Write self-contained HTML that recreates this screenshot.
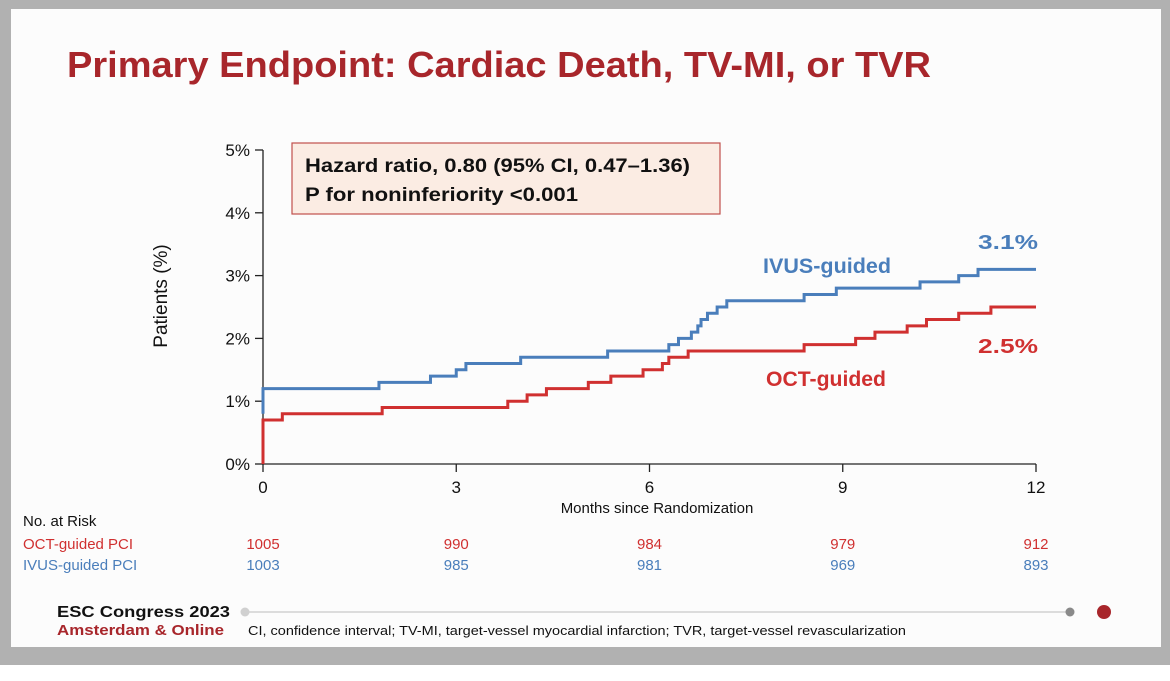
<!DOCTYPE html>
<html><head><meta charset="utf-8"><style>
body{margin:0;background:#fff;}
svg{display:block;font-family:"Liberation Sans",sans-serif;}
</style></head><body>
<svg width="1170" height="681" viewBox="0 0 1170 681">
<rect x="0" y="0" width="1170" height="665" fill="#b1b1b1"/>
<rect x="11" y="9" width="1150" height="638" fill="#fcfcfc"/>
<text x="67" y="77" font-size="36" font-weight="bold" fill="#a8262b" textLength="864" lengthAdjust="spacingAndGlyphs">Primary Endpoint: Cardiac Death, TV-MI, or TVR</text>
<g id="chart"></g>
<rect x="292" y="143" width="428" height="71" fill="#fbece3" stroke="#c0504d" stroke-width="1.2"/>
<text x="305" y="172" font-size="19" font-weight="bold" fill="#111" textLength="385" lengthAdjust="spacingAndGlyphs">Hazard ratio, 0.80 (95% CI, 0.47–1.36)</text>
<text x="305" y="201" font-size="19" font-weight="bold" fill="#111" textLength="273" lengthAdjust="spacingAndGlyphs">P for noninferiority &lt;0.001</text>
<text x="763" y="273" font-size="21" font-weight="bold" fill="#4a7ebb" textLength="128" lengthAdjust="spacingAndGlyphs">IVUS-guided</text>
<text x="978" y="249" font-size="20" font-weight="bold" fill="#4a7ebb" textLength="60" lengthAdjust="spacingAndGlyphs">3.1%</text>
<text x="766" y="386" font-size="21" font-weight="bold" fill="#d03030" textLength="120" lengthAdjust="spacingAndGlyphs">OCT-guided</text>
<text x="978" y="353" font-size="20" font-weight="bold" fill="#d03030" textLength="60" lengthAdjust="spacingAndGlyphs">2.5%</text>
<text transform="translate(167,296) rotate(-90)" text-anchor="middle" font-size="19" fill="#111">Patients (%)</text>
<text x="657" y="513" text-anchor="middle" font-size="15" fill="#111">Months since Randomization</text>
<text x="23" y="526" font-size="15" fill="#111">No. at Risk</text>
<text x="23" y="549" font-size="15" fill="#d03030">OCT-guided PCI</text>
<text x="23" y="570" font-size="15" fill="#4a7ebb">IVUS-guided PCI</text>
<g id="risk"></g>
<text x="57" y="617" font-size="16" font-weight="bold" fill="#111" textLength="173" lengthAdjust="spacingAndGlyphs">ESC Congress 2023</text>
<text x="57" y="635" font-size="15" font-weight="bold" fill="#a8262b" textLength="167" lengthAdjust="spacingAndGlyphs">Amsterdam &amp; Online</text>
<line x1="245" y1="612" x2="1070" y2="612" stroke="#dcdcdc" stroke-width="2"/>
<circle cx="245" cy="612" r="4.5" fill="#d0d0d0"/>
<circle cx="1070" cy="612" r="4.5" fill="#8a8a8a"/>
<circle cx="1104" cy="612" r="7" fill="#a8262b"/>
<text x="248" y="635" font-size="13" fill="#111" textLength="658" lengthAdjust="spacingAndGlyphs">CI, confidence interval; TV-MI, target-vessel myocardial infarction; TVR, target-vessel revascularization</text>
</svg>
<script>
const xTicks=[0,3,6,9,12];
const yTicks=[0,1,2,3,4,5];
const ivusTimes=[0,0,0,1.8,2.6,3.0,3.15,4.0,5.35,6.3,6.45,6.65,6.75,6.8,6.9,7.05,7.2,8.4,8.9,10.2,10.8,11.1];
const ivusValues=[0.8,1.0,1.2,1.3,1.4,1.5,1.6,1.7,1.8,1.9,2.0,2.1,2.2,2.3,2.4,2.5,2.6,2.7,2.8,2.9,3.0,3.1];
const octTimes=[0,0.3,1.85,3.8,4.1,4.4,5.05,5.4,5.9,6.2,6.3,6.6,8.4,9.2,9.5,10.0,10.3,10.8,11.3];
const octValues=[0.7,0.8,0.9,1.0,1.1,1.2,1.3,1.4,1.5,1.6,1.7,1.8,1.9,2.0,2.1,2.2,2.3,2.4,2.5];
const riskTimes=[0,3,6,9,12];
const riskOct=[1005,990,984,979,912];
const riskIvus=[1003,985,981,969,893];
const NS='http://www.w3.org/2000/svg';
const X=m=>263+m*(1036-263)/12;
const Y=p=>464-p*(464-150)/5;
const g=document.getElementById('chart');
function mk(t,a,parent){const e=document.createElementNS(NS,t);for(const k in a)e.setAttribute(k,a[k]);(parent||g).appendChild(e);return e;}
const ax=mk('path',{d:`M${X(0)},${Y(5)}V${Y(0)}H${X(12)}`,fill:'none',stroke:'#222','stroke-width':1.3});


yTicks.forEach(v=>{
 const l=mk('line',{x1:X(0)-8,x2:X(0),y1:Y(v),y2:Y(v),stroke:'#222','stroke-width':1.3});
 
 
 const t=mk('text',{x:X(0)-13,y:Y(v)+6,'text-anchor':'end','font-size':17,fill:'#111'});
 t.textContent=v+'%';
 
 
});
xTicks.forEach(v=>{
 const l=mk('line',{x1:X(v),x2:X(v),y1:Y(0),y2:Y(0)+8,stroke:'#222','stroke-width':1.3});
 
 
 const t=mk('text',{x:X(v),y:Y(0)+29,'text-anchor':'middle','font-size':17,fill:'#111'});
 t.textContent=v;
 
 
});
function stepPath(ts,vs){let d=`M${X(0)},${Y(0)}`;for(let i=0;i<ts.length;i++){d+=`H${X(ts[i])}V${Y(vs[i])}`;}d+=`H${X(12)}`;return d;}
const oct=mk('path',{d:stepPath(octTimes,octValues),fill:'none',stroke:'#d03030','stroke-width':3});


const ivus=mk('path',{d:stepPath(ivusTimes,ivusValues).replace(`M${X(0)},${Y(0)}`,`M${X(0)},${Y(ivusValues[0])}`),fill:'none',stroke:'#4a7ebb','stroke-width':3});


const r=document.getElementById('risk');
riskTimes.forEach((m,i)=>{
 const a=mk('text',{x:X(m),y:549,'text-anchor':'middle','font-size':15,fill:'#d03030'},r);
 a.textContent=riskOct[i];
 
 
 const b=mk('text',{x:X(m),y:570,'text-anchor':'middle','font-size':15,fill:'#4a7ebb'},r);
 b.textContent=riskIvus[i];
 
 
});
</script>
</body></html>
